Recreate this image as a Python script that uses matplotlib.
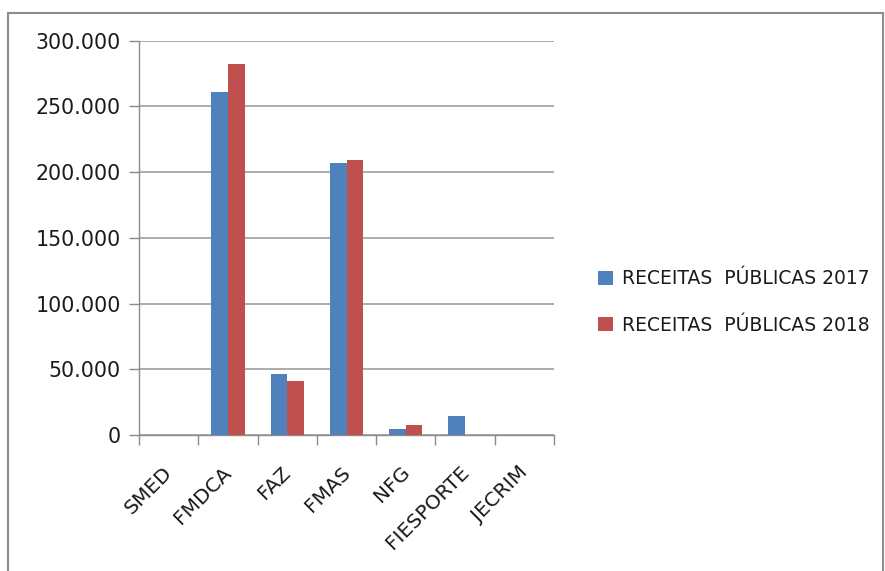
import numpy as np
import matplotlib.pyplot as plt
import matplotlib.transforms as mtransforms
from matplotlib.patches import Rectangle
from matplotlib.ticker import FuncFormatter, FixedLocator

categories = ['SMED', 'FMDCA', 'FAZ', 'FMAS', 'NFG', 'FIESPORTE', 'JECRIM']
receitas_2017 = [0, 260700, 46600, 206700, 4300, 14200, 0]
receitas_2018 = [0, 282300, 41100, 209500, 7800, 0, 0]
series_labels = ['RECEITAS  PÚBLICAS 2017', 'RECEITAS  PÚBLICAS 2018']
y_ticks = [0, 50000, 100000, 150000, 200000, 250000, 300000]

blue = '#4F81BD'
red = '#C0504D'
grid_col = '#A6A6A6'

fig = plt.figure(figsize=(8.85, 5.71), dpi=100)
ax = fig.add_axes([139 / 885, 1 - 435 / 571, 415 / 885, 394.3 / 571])

# outer chart border
fig.patches.append(Rectangle((8 / 885, -0.01), 875 / 885, (571 - 13) / 571 + 0.01,
                             transform=fig.transFigure, fill=False,
                             edgecolor='#8C8C8C', linewidth=1.5))

x = np.arange(len(categories))
w = 0.28
ax.bar(x - w / 2, receitas_2017, w, color=blue, label=series_labels[0], zorder=3)
ax.bar(x + w / 2, receitas_2018, w, color=red, label=series_labels[1], zorder=3)

ax.set_xlim(-0.5, len(categories) - 0.5)
ax.set_ylim(0, 300000)
ax.set_yticks(y_ticks)
ax.yaxis.set_major_formatter(FuncFormatter(lambda v, p: f'{int(v):,}'.replace(',', '.')))
ax.grid(axis='y', color=grid_col, linewidth=1.3, zorder=0)

for s in ['top', 'right']:
    ax.spines[s].set_visible(False)
for s in ['left', 'bottom']:
    ax.spines[s].set_color('#8C8C8C')
    ax.spines[s].set_linewidth(1.0)

ax.tick_params(axis='y', length=7, width=1, color='#8C8C8C', labelsize=14.8,
               pad=6, labelcolor='#1a1a1a')
ax.set_xticks(x)
ax.set_xticklabels(categories, rotation=45, ha='right', va='top',
                   rotation_mode='anchor', fontsize=14.5, color='#1a1a1a')
ax.tick_params(axis='x', which='major', length=0, pad=20)
shift = mtransforms.ScaledTranslation(-6 / 100, 0, fig.dpi_scale_trans)
for lbl in ax.get_xticklabels():
    lbl.set_transform(lbl.get_transform() + shift)
ax.xaxis.set_minor_locator(FixedLocator(np.arange(-0.5, len(categories), 1.0)))
ax.tick_params(axis='x', which='minor', length=7, width=1, color='#8C8C8C')

leg = fig.legend(loc='upper left', bbox_to_anchor=(590 / 885, 1 - 262 / 571),
                 frameon=False, fontsize=13.5, handlelength=0.8, handleheight=0.8,
                 handletextpad=0.5, labelspacing=1.45, borderaxespad=0)
for t in leg.get_texts():
    t.set_color('#1a1a1a')

fig.savefig('out.png', dpi=100)
